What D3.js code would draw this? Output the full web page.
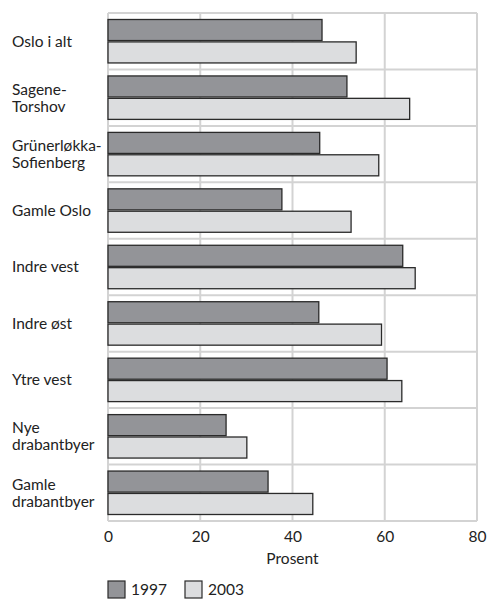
<!DOCTYPE html>
<html>
<head>
<meta charset="utf-8">
<script src="https://cdn.jsdelivr.net/npm/d3@7"></script>
<style>
  body { margin: 0; background: #fff; }
  text { font-family: Lato, "Open Sans", sans-serif; fill: #222; }
</style>
</head>
<body>
<div id="chart"></div>
<script>
// Categories (label lines) and series
const categories = [
  ["Oslo i alt"],
  ["Sagene-", "Torshov"],
  ["Grünerløkka-", "Sofienberg"],
  ["Gamle Oslo"],
  ["Indre vest"],
  ["Indre øst"],
  ["Ytre vest"],
  ["Nye", "drabantbyer"],
  ["Gamle", "drabantbyer"]
];
const series = ["1997", "2003"];
const values1997 = [46.4, 51.8, 45.9, 37.7, 63.9, 45.7, 60.5, 25.6, 34.7];
const values2003 = [53.8, 65.4, 58.7, 52.7, 66.6, 59.3, 63.7, 30.1, 44.4];
const xTicks = [0, 20, 40, 60, 80];
const xLabel = "Prosent";

const colors = { "1997": "#939498", "2003": "#dcdddf" };

const W = 488, H = 600;
const margin = { top: 13, right: 11, bottom: 79, left: 108 };
const width = W - margin.left - margin.right;
const height = H - margin.top - margin.bottom;
const fontSize = "15.5px";

const svg = d3.select("#chart").append("svg")
  .attr("width", W)
  .attr("height", H);

const g = svg.append("g")
  .attr("transform", "translate(" + margin.left + "," + margin.top + ")");

// Scales
const names = categories.map(c => c.join(" "));
const x = d3.scaleLinear().domain([0, 80]).range([0, width]);
const y0 = d3.scaleBand().domain(names).range([0, height]).padding(0);
const y1 = d3.scaleBand().domain(series)
  .range([6.5, y0.bandwidth() - 6.5]).paddingInner(0.06);

// Grid: vertical lines
g.selectAll(".grid-v")
  .data(xTicks)
  .enter().append("line")
  .attr("x1", d => x(d)).attr("x2", d => x(d))
  .attr("y1", 0).attr("y2", height)
  .attr("stroke", "#d3d3d3").attr("stroke-width", 2);

// Grid: horizontal lines at band edges
const edges = names.map(n => y0(n)).concat([height]);
g.selectAll(".grid-h")
  .data(edges)
  .enter().append("line")
  .attr("x1", 0).attr("x2", width)
  .attr("y1", d => d).attr("y2", d => d)
  .attr("stroke", "#d3d3d3").attr("stroke-width", 2);

// Bars
const rows = names.map((n, i) => ({ name: n, vals: [
  { key: "1997", v: values1997[i] },
  { key: "2003", v: values2003[i] }
] }));

const groups = g.selectAll(".cat")
  .data(rows)
  .enter().append("g")
  .attr("transform", d => "translate(0," + y0(d.name) + ")");

groups.selectAll("rect")
  .data(d => d.vals)
  .enter().append("rect")
  .attr("x", x(0))
  .attr("y", d => y1(d.key))
  .attr("width", d => x(d.v) - x(0))
  .attr("height", y1.bandwidth())
  .attr("fill", d => colors[d.key])
  .attr("stroke", "#2a2a2a")
  .attr("stroke-width", 1.3);

// Category labels
categories.forEach((lines, i) => {
  const cy = margin.top + y0(names[i]) + y0.bandwidth() / 2;
  const t = svg.append("text")
    .attr("x", 12)
    .attr("y", cy)
    .style("font-size", fontSize);
  const lh = 17;
  lines.forEach((line, j) => {
    t.append("tspan")
      .attr("x", 12)
      .attr("y", cy + (j - (lines.length - 1) / 2) * lh)
      .attr("dy", "0.35em")
      .text(line);
  });
});

// X axis tick labels
const xAxis = d3.axisBottom(x).tickValues(xTicks).tickSize(0).tickPadding(10);
const gX = g.append("g")
  .attr("transform", "translate(0," + height + ")")
  .call(xAxis);
gX.select(".domain").remove();
gX.selectAll("text")
  .style("font-size", fontSize)
  .style("font-family", "Lato, 'Open Sans', sans-serif")
  .attr("fill", "#222");

// Axis title
g.append("text")
  .attr("x", x(40))
  .attr("y", height + 43)
  .attr("text-anchor", "middle")
  .style("font-size", fontSize)
  .text(xLabel);

// Legend
const legend = svg.append("g")
  .attr("transform", "translate(" + margin.left + "," + 581 + ")");
const li = legend.selectAll("g")
  .data(series)
  .enter().append("g")
  .attr("transform", (d, i) => "translate(" + (i * 77) + ",0)");
li.append("rect")
  .attr("width", 17).attr("height", 17)
  .attr("fill", d => colors[d])
  .attr("stroke", "#2a2a2a").attr("stroke-width", 1.2);
li.append("text")
  .attr("x", 23).attr("y", 9)
  .attr("dy", "0.35em")
  .style("font-size", fontSize)
  .text(d => d);
</script>
</body>
</html>
